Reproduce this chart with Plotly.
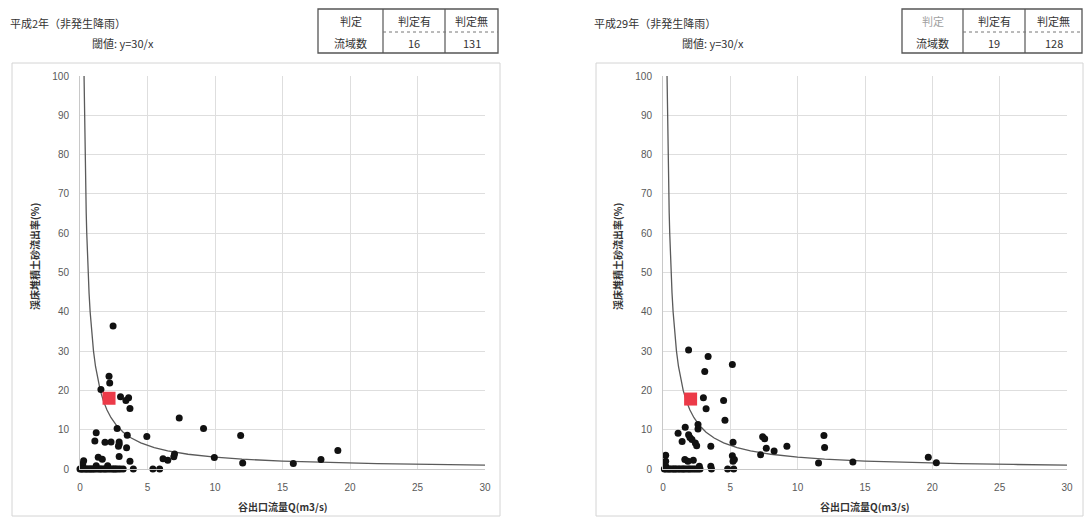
import plotly.graph_objects as go

W, H = 1084, 521

# ---- 平成2年（非発生降雨） ----
h2_q = [2.45, 2.15, 2.2, 1.55, 3.0, 3.6, 3.4, 3.7, 2.75, 3.5, 4.95, 7.35, 9.15, 11.9,
        19.1, 17.85, 15.8, 12.05, 9.95, 6.95, 7.0, 6.5, 6.15, 5.9, 5.4, 3.95, 3.7, 2.9,
        3.45, 2.85, 2.9, 2.9, 2.3, 1.85, 1.1, 1.2, 1.35, 1.65, 0.27, 0.2, 2.05, 1.2,
        0.0, 0.1, 0.18, 0.3, 0.42, 0.5, 0.6, 0.72, 0.8, 0.9, 1.0, 1.1, 1.25, 1.4, 1.5,
        1.6, 1.75, 1.85, 1.95, 2.1, 2.25, 2.4, 2.5, 2.6, 2.7, 2.85, 3.0, 3.2]
h2_r = [36.4, 23.6, 21.9, 20.2, 18.4, 18.1, 17.4, 15.4, 10.3, 8.6, 8.3, 13.0, 10.3, 8.5,
        4.7, 2.4, 1.4, 1.5, 2.9, 3.1, 3.8, 2.2, 2.6, 0.0, 0.0, 0.0, 2.0, 3.2,
        5.4, 5.8, 6.9, 6.3, 6.9, 6.8, 7.1, 9.2, 3.0, 2.5, 2.1, 1.3, 0.8, 0.8,
        0.0, 0.0, 0.0, 0.0, 0.0, 0.0, 0.0, 0.0, 0.0, 0.0, 0.0, 0.0, 0.0, 0.0, 0.0,
        0.0, 0.0, 0.0, 0.0, 0.0, 0.0, 0.0, 0.0, 0.0, 0.0, 0.0, 0.0, 0.0]
h2_mark_q = [2.15]
h2_mark_r = [18.0]
h2_counts = [16, 131]

# ---- 平成29年（非発生降雨） ----
h29_q = [1.9, 3.35, 3.1, 5.15, 3.0, 3.2, 4.5, 4.6, 2.6, 2.6, 1.65, 1.12, 1.9, 2.0,
         2.15, 1.42, 2.4, 2.5, 3.55, 5.2, 5.15, 5.3, 5.2, 4.8, 5.25, 3.55, 3.6, 2.7,
         2.25, 1.62, 1.85, 0.2, 0.2, 0.2, 7.4, 7.55, 7.67, 7.25, 8.25, 9.2, 11.95, 12.0,
         11.55, 14.1, 19.7, 20.3,
         0.1, 0.2, 0.35, 0.45, 0.55, 0.7, 0.8, 0.9, 1.0, 1.15, 1.25, 1.4, 1.5, 1.6,
         1.75, 1.9, 2.0, 2.15, 2.3, 2.45, 2.6, 2.75]
h29_r = [30.3, 28.6, 24.8, 26.6, 18.1, 15.3, 17.4, 12.4, 11.3, 10.2, 10.6, 9.1, 8.7, 8.0,
         7.5, 7.0, 6.6, 5.9, 5.8, 6.8, 3.4, 2.4, 2.0, 0.0, 0.0, 0.7, 0.0, 0.7,
         2.2, 2.4, 2.0, 3.5, 2.0, 0.7, 8.2, 7.7, 5.3, 3.6, 4.6, 5.8, 8.5, 5.5,
         1.5, 1.8, 3.0, 1.6,
         0.0, 0.0, 0.0, 0.0, 0.0, 0.0, 0.0, 0.0, 0.0, 0.0, 0.0, 0.0, 0.0, 0.0,
         0.0, 0.0, 0.0, 0.0, 0.0, 0.0, 0.0, 0.0]
h29_mark_q = [2.05]
h29_mark_r = [17.8]
h29_counts = [19, 128]

# threshold curve y = a / x
threshold_a = 30
curve_q = [0.3, 0.32, 0.35, 0.38, 0.42, 0.46, 0.5, 0.55, 0.6, 0.67, 0.75, 0.85, 1.0, 1.15,
           1.3, 1.5, 1.75, 2.0, 2.3, 2.7, 3.2, 3.8, 4.5, 5.5, 6.5, 8, 10, 12, 15, 18, 22, 26, 30]
curve_r = [threshold_a / q for q in curve_q]

table_head = ["判定", "判定有", "判定無"]
table_row = "流域数"
titles = ["平成2年（非発生降雨）", "平成29年（非発生降雨）"]
threshold_label = "閾値: y=30/x"
x_title = "谷出口流量Q(m3/s)"
y_title = "渓床堆積土砂流出率(%)"

JP = "Noto Sans CJK JP"
TICKFONT = dict(family="Liberation Sans", size=10, color="#595959")


def px(x):
    """pixel column -> paper fraction"""
    return min(max(x, 0), W - 0.5) / W


def py(y):
    """pixel row (from top) -> paper fraction"""
    return 1 - min(max(y, 0), H - 0.5) / H


def label(x, y, text, size=11, color="#333333", xanchor="center", angle=0):
    return dict(x=px(x), y=py(y), xref="paper", yref="paper", text=text, showarrow=False,
                xanchor=xanchor, yanchor="middle", textangle=angle,
                font=dict(family=JP, size=size, color=color))


fig = go.Figure()

panels = [
    dict(q=h2_q, r=h2_r, mq=h2_mark_q, mr=h2_mark_r, counts=h2_counts, xa="x", ya="y",
         x0=80, x1=485, frame=(12, 500), table=(318, 383, 445, 498), title=titles[0],
         tx=8, thx=90),
    dict(q=h29_q, r=h29_r, mq=h29_mark_q, mr=h29_mark_r, counts=h29_counts, xa="x2", ya="y2",
         x0=663, x1=1067, frame=(596, 1083), table=(902, 963, 1025, 1082), title=titles[1],
         tx=592, thx=680),
]

plot_top, plot_bottom = 76, 469
shapes = []
annotations = []

for i, p in enumerate(panels):
    fig.add_trace(go.Scatter(x=curve_q, y=curve_r, mode="lines", xaxis=p["xa"], yaxis=p["ya"],
                             line=dict(color="#5a5a5a", width=1.3), hoverinfo="skip",
                             showlegend=False))
    fig.add_trace(go.Scatter(x=p["q"], y=p["r"], mode="markers", xaxis=p["xa"], yaxis=p["ya"],
                             marker=dict(color="#111111", size=7), cliponaxis=False,
                             showlegend=False))
    fig.add_trace(go.Scatter(x=p["mq"], y=p["mr"], mode="markers", xaxis=p["xa"], yaxis=p["ya"],
                             marker=dict(color="#ec3a48", size=13, symbol="square"),
                             cliponaxis=False, showlegend=False))

    sfx = "" if i == 0 else "2"
    axis_common = dict(showgrid=True, gridcolor="#dedede", gridwidth=1, zeroline=False,
                       showline=True, linecolor="#c8c8c8", linewidth=1, tickfont=TICKFONT,
                       ticks="outside", tickcolor="rgba(0,0,0,0)", fixedrange=True,
                       automargin=False)
    fig.update_layout(**{
        "xaxis" + sfx: dict(domain=[px(p["x0"]), px(p["x1"])], range=[0, 30], dtick=5,
                            anchor="y" + sfx, ticklen=9, **axis_common),
        "yaxis" + sfx: dict(domain=[py(plot_bottom), py(plot_top)], range=[0, 100], dtick=10,
                            anchor="x" + sfx, ticklen=8, **axis_common),
    })

    # outer frame of the chart
    fx0, fx1 = p["frame"]
    shapes.append(dict(type="rect", xref="paper", yref="paper", x0=px(fx0), x1=px(fx1),
                       y0=py(516), y1=py(63), line=dict(color="#d4d4d4", width=1)))

    # count table
    c0, c1, c2, c3 = p["table"]
    t_top, t_mid, t_bot = 9, 32, 53
    shapes.append(dict(type="rect", xref="paper", yref="paper", x0=px(c0), x1=px(c3),
                       y0=py(t_bot), y1=py(t_top), line=dict(color="#555555", width=1.3)))
    for cx in (c1, c2):
        shapes.append(dict(type="line", xref="paper", yref="paper", x0=px(cx), x1=px(cx),
                           y0=py(t_bot), y1=py(t_top), line=dict(color="#555555", width=1.2)))
    shapes.append(dict(type="line", xref="paper", yref="paper", x0=px(c1), x1=px(c3),
                       y0=py(t_mid), y1=py(t_mid), line=dict(color="#777777", width=1, dash="dot")))
    centers = [(c0 + c1) / 2, (c1 + c2) / 2, (c2 + c3) / 2]
    head_colors = ["#333333" if i == 0 else "#a0a0a0", "#333333", "#333333"]
    for cx, txt, col in zip(centers, table_head, head_colors):
        annotations.append(label(cx, 21, txt, color=col))
    row_vals = [table_row] + [str(v) for v in p["counts"]]
    for cx, txt in zip(centers, row_vals):
        annotations.append(label(cx, 43, txt))

    # titles
    annotations.append(label(p["tx"], 23, p["title"], xanchor="left"))
    annotations.append(label(p["thx"], 43, threshold_label, xanchor="left"))

    # axis titles
    annotations.append(label((p["x0"] + p["x1"]) / 2, 506, "<b>" + x_title + "</b>", size=10))
    annotations.append(label(p["x0"] - 45, 257, "<b>" + y_title + "</b>", size=10, angle=-90))

fig.update_layout(width=W, height=H, margin=dict(l=0, r=0, t=0, b=0),
                  paper_bgcolor="white", plot_bgcolor="white", showlegend=False,
                  shapes=shapes, annotations=annotations)

fig.write_html("out.html")
